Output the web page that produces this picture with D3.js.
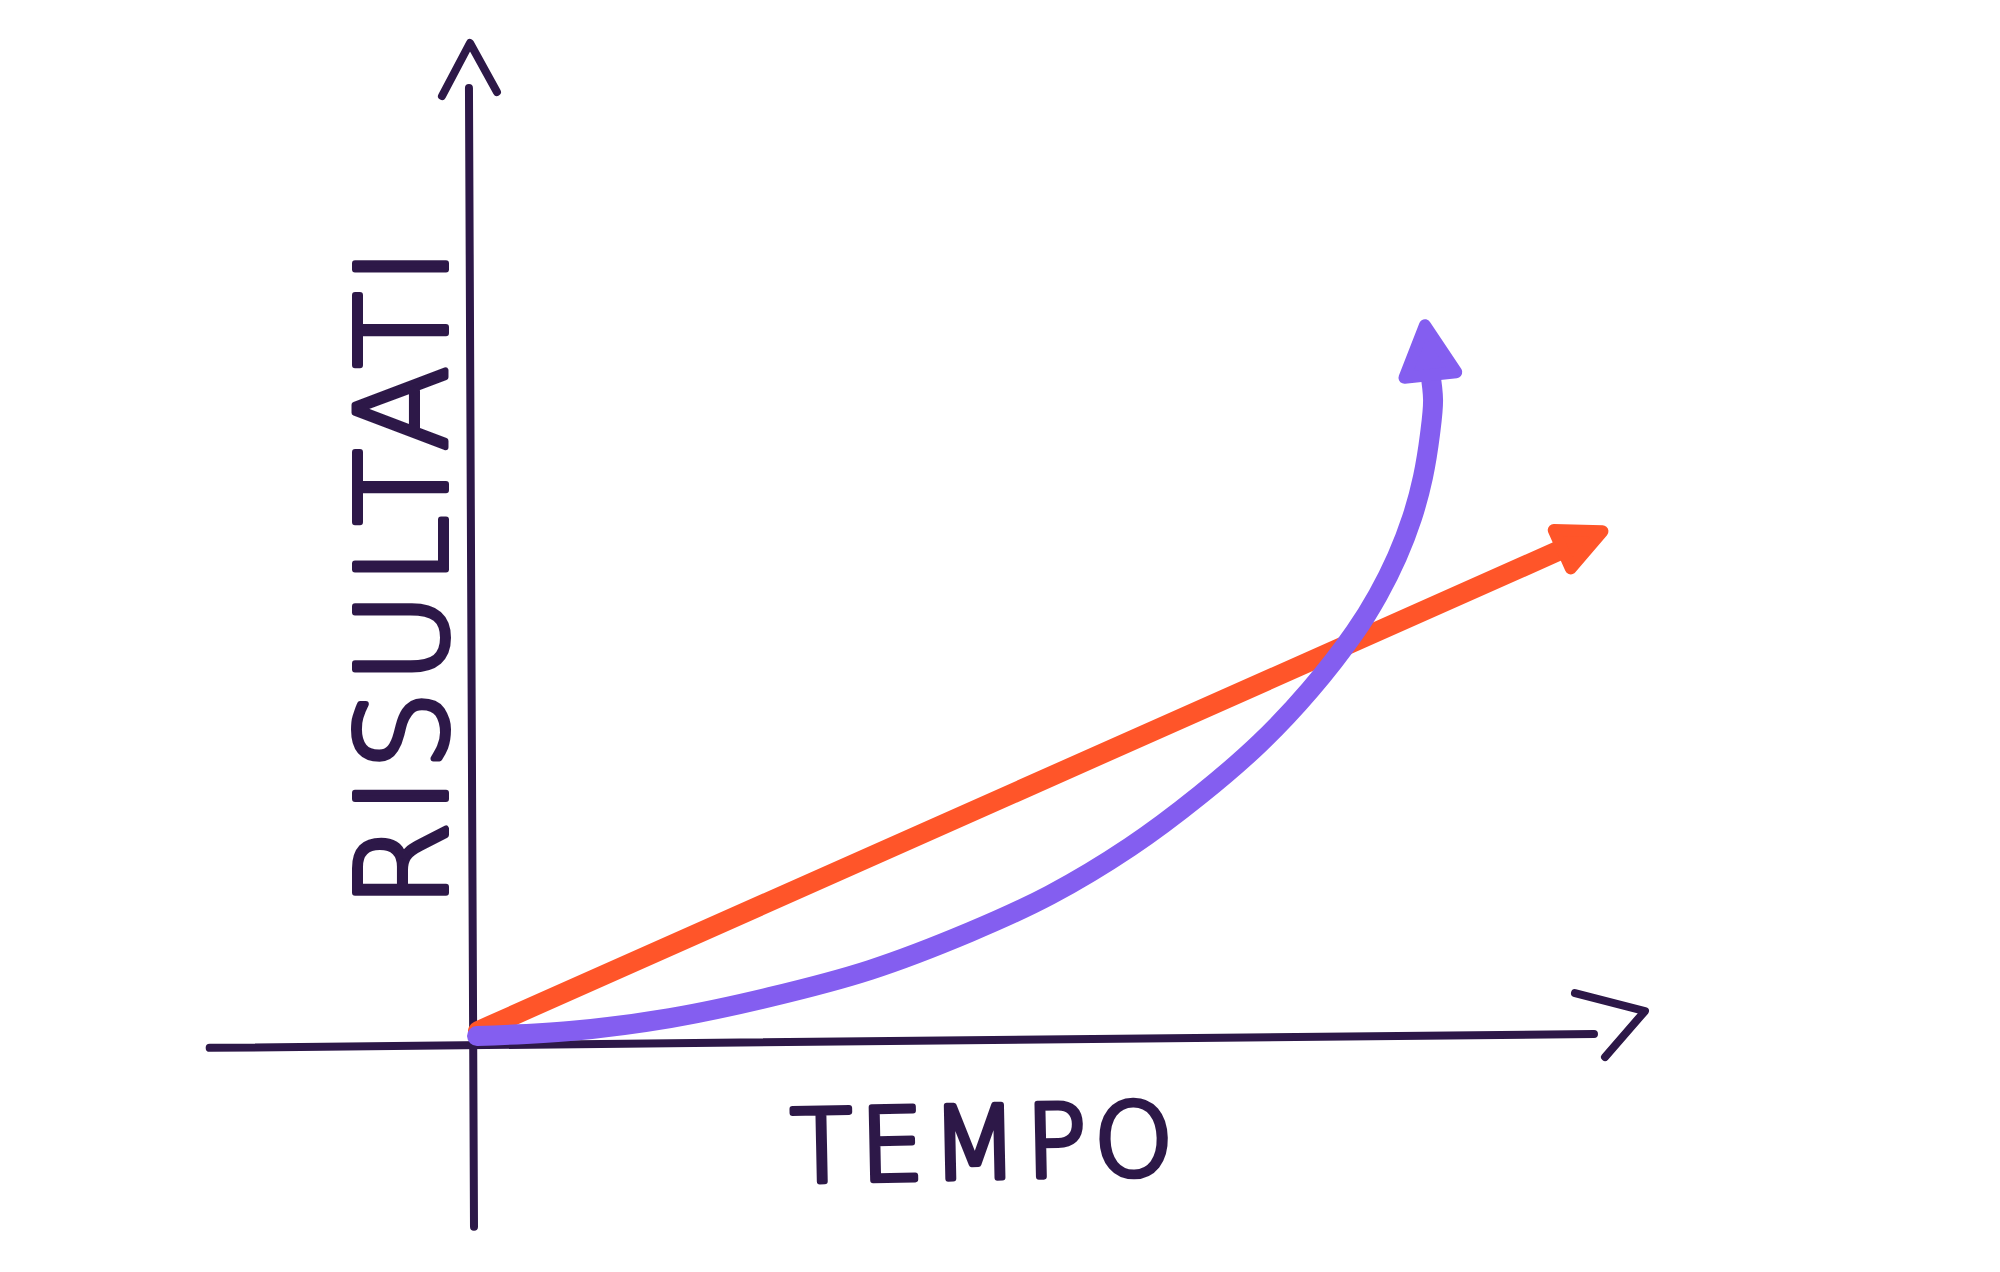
<!DOCTYPE html>
<html>
<head>
<meta charset="utf-8">
<script src="https://cdn.jsdelivr.net/npm/d3@7"></script>
<style>
  html, body { margin: 0; padding: 0; background: #ffffff; }
  svg { display: block; }
</style>
</head>
<body>
<script>
// ---- data (time vs results, arbitrary 0-100 units) ----
const xAxisLabel = "TEMPO";
const yAxisLabel = "RISULTATI";

// linear growth (orange)
const linearTime    = [0.36, 97.41];
const linearResult  = [1.46, 51.99];

// exponential growth (purple)
const expTime   = [0.27, 8.57, 17.50, 26.43, 35.36, 44.29, 51.43, 58.57, 64.82, 70.18, 74.64, 78.66, 80.71, 82.41, 83.75, 84.73, 85.36, 85.63, 85.36];
const expResult = [0.94, 1.46, 2.82, 5.02, 7.85, 11.82, 15.69, 20.71, 26.15, 31.59, 37.13, 43.20, 47.07, 51.05, 55.13, 59.41, 63.91, 67.47, 70.40];

// hand-drawn axis lines (slightly tilted)
const xAxisTime   = [-23.6, 100.0];
const xAxisResult = [-0.3, 1.15];
const yAxisTime   = [0.0, -0.45];
const yAxisResult = [-19.0, 100.1];

// ---- drawing ----
const W = 2000, H = 1272;
const COL_AXIS = "#2d1848";
const COL_LIN = "#ff5529";
const COL_EXP = "#845ef0";

const x = d3.scaleLinear().domain([0, 100]).range([474, 1594]);
const y = d3.scaleLinear().domain([0, 100]).range([1045, 89]);

const svg = d3.select("body").append("svg")
  .attr("width", W).attr("height", H)
  .attr("viewBox", `0 0 ${W} ${H}`);

const line = d3.line().x(d => x(d[0])).y(d => y(d[1]));
const curve = d3.line().x(d => x(d[0])).y(d => y(d[1])).curve(d3.curveCatmullRom.alpha(0.5));

// axes
const xAxisPts = xAxisTime.map((t, i) => [t, xAxisResult[i]]);
const yAxisPts = yAxisTime.map((t, i) => [t, yAxisResult[i]]);

svg.append("path").datum(xAxisPts).attr("d", line)
  .attr("fill", "none").attr("stroke", COL_AXIS)
  .attr("stroke-width", 8).attr("stroke-linecap", "round");
svg.append("path").datum(yAxisPts).attr("d", line)
  .attr("fill", "none").attr("stroke", COL_AXIS)
  .attr("stroke-width", 8).attr("stroke-linecap", "round");

// axis chevrons, placed relative to axis ends
function chevron(px, py, pts) {
  svg.append("path")
    .attr("d", d3.line()(pts.map(p => [px + p[0], py + p[1]])))
    .attr("fill", "none").attr("stroke", COL_AXIS)
    .attr("stroke-width", 8).attr("stroke-linecap", "round").attr("stroke-linejoin", "round");
}
{
  const ex = x(xAxisPts[1][0]), ey = y(xAxisPts[1][1]);
  chevron(ex, ey, [[-19, -41], [51, -23], [11, 23]]);
  const tx = x(yAxisPts[1][0]), ty = y(yAxisPts[1][1]);
  chevron(tx, ty, [[-27, 8], [1, -45], [28, 4]]);
}

// arrow head helper
function arrowHead(p1, p2, L, Wd, color) {
  const dx = p2[0] - p1[0], dy = p2[1] - p1[1];
  const n = Math.hypot(dx, dy);
  const ux = dx / n, uy = dy / n;
  const vx = -uy, vy = ux;
  const tip = [p2[0] + ux * L, p2[1] + uy * L];
  const b1 = [p2[0] + vx * Wd - ux * 3, p2[1] + vy * Wd - uy * 3];
  const b2 = [p2[0] - vx * Wd - ux * 3, p2[1] - vy * Wd - uy * 3];
  svg.append("path")
    .attr("d", d3.line()([b1, tip, b2]) + "Z")
    .attr("fill", color).attr("stroke", color)
    .attr("stroke-width", 12).attr("stroke-linejoin", "round");
}

// linear series
const linPts = linearTime.map((t, i) => [t, linearResult[i]]);
svg.append("path").datum(linPts).attr("d", line)
  .attr("fill", "none").attr("stroke", COL_LIN)
  .attr("stroke-width", 20).attr("stroke-linecap", "round");
{
  const a = linPts[linPts.length - 2], b = linPts[linPts.length - 1];
  arrowHead([x(a[0]), y(a[1])], [x(b[0]), y(b[1])], 41, 21, COL_LIN);
}

// exponential series
const expPts = expTime.map((t, i) => [t, expResult[i]]);
svg.append("path").datum(expPts)
  .attr("d", curve)
  .attr("fill", "none").attr("stroke", COL_EXP)
  .attr("stroke-width", 20).attr("stroke-linecap", "round");
{
  const a = expPts[expPts.length - 2], b = expPts[expPts.length - 1];
  arrowHead([x(a[0]), y(a[1])], [x(b[0]), y(b[1])], 47, 26, COL_EXP);
}

// axis labels (hand-lettered look)
svg.append("text")
  .attr("x", 982).attr("y", 1178)
  .attr("transform", "rotate(-1.2 982 1140)")
  .attr("text-anchor", "middle")
  .attr("font-family", "DejaVu Sans")
  .attr("font-weight", 200)
  .attr("font-size", 100)
  .attr("textLength", 382).attr("lengthAdjust", "spacing")
  .attr("fill", COL_AXIS).attr("stroke", COL_AXIS)
  .attr("stroke-width", 6).attr("stroke-linejoin", "round").attr("stroke-linecap", "round")
  .text(xAxisLabel);

svg.append("text")
  .attr("transform", "translate(446,578) rotate(-90)")
  .attr("text-anchor", "middle")
  .attr("font-family", "DejaVu Sans")
  .attr("font-weight", 200)
  .attr("font-size", 124)
  .attr("textLength", 660).attr("lengthAdjust", "spacing")
  .attr("fill", COL_AXIS).attr("stroke", COL_AXIS)
  .attr("stroke-width", 6).attr("stroke-linejoin", "round").attr("stroke-linecap", "round")
  .text(yAxisLabel);
</script>
</body>
</html>
